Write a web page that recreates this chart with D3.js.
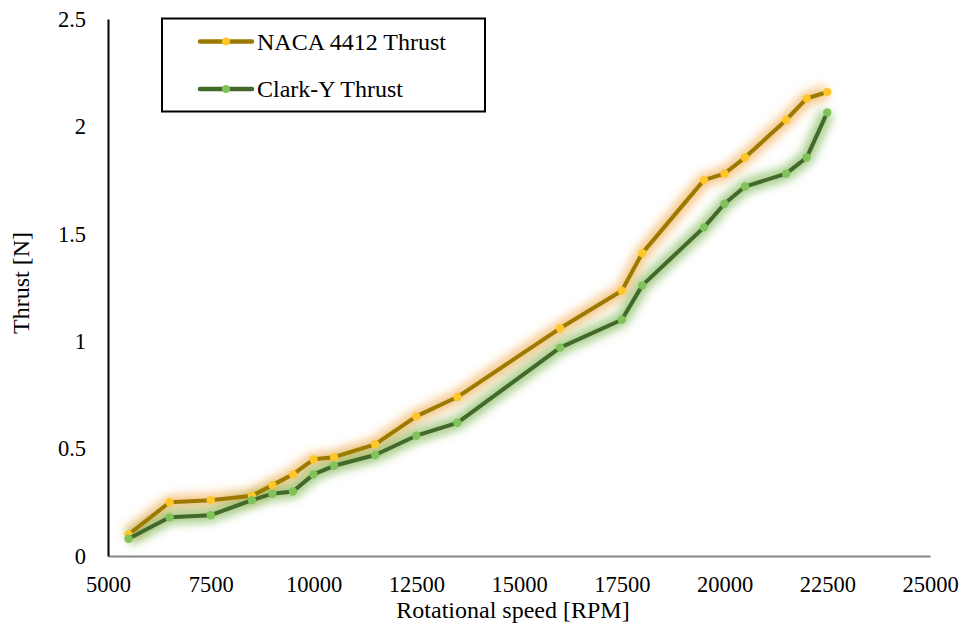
<!DOCTYPE html>
<html>
<head>
<meta charset="utf-8">
<script src="https://cdn.jsdelivr.net/npm/d3@7"></script>
<style>
  body { margin: 0; background: #fff; }
  svg text { font-family: "Liberation Serif", "Times New Roman", serif; fill: #000; }
</style>
</head>
<body>
<div id="chart"></div>
<script>
// rotational speed [RPM]
const rpm = [5500, 6500, 7500, 8500, 9000, 9500, 10000, 10500, 11500, 12500,
  13500, 16000, 17500, 18000, 19500, 20000, 20500, 21500, 22000, 22500];
// thrust [N]
const nacaThrust = [0.10, 0.25, 0.26, 0.28, 0.33, 0.38, 0.45, 0.46, 0.52, 0.65,
  0.74, 1.06, 1.235, 1.41, 1.75, 1.78, 1.855, 2.03, 2.13, 2.16];
const clarkThrust = [0.08, 0.18, 0.19, 0.26, 0.29, 0.30, 0.38, 0.42, 0.47, 0.56,
  0.62, 0.97, 1.10, 1.26, 1.53, 1.64, 1.72, 1.78, 1.855, 2.065];
const xTicks = [5000, 7500, 10000, 12500, 15000, 17500, 20000, 22500, 25000];
const yTicks = [0, 0.5, 1, 1.5, 2, 2.5];

const series = [
  { name: "NACA 4412 Thrust", values: nacaThrust, line: "#9c7a00", dot: "#ffc629", glow: "#f0a43a" },
  { name: "Clark-Y Thrust", values: clarkThrust, line: "#43682b", dot: "#7fc35a", glow: "#6cae3e" },
];

const FONT = '"Liberation Serif", "Times New Roman", serif';
const W = 965, H = 626;
const svg = d3.select("#chart").append("svg").attr("width", W).attr("height", H);

const x = d3.scaleLinear().domain([5000, 25000]).range([108, 930]);
const y = d3.scaleLinear().domain([0, 2.5]).range([556, 19]);

// soft glow behind the lines
const defs = svg.append("defs");
defs.append("filter").attr("id", "glow")
  .attr("x", "-10%").attr("y", "-10%").attr("width", "120%").attr("height", "120%")
  .append("feGaussianBlur").attr("stdDeviation", 5);

// x axis (gray line, no ticks)
const xAxis = svg.append("g").attr("transform", `translate(0,${y(0)})`)
  .attr("font-family", FONT)
  .call(d3.axisBottom(x).tickValues(xTicks).tickSize(0).tickPadding(20).tickFormat(d3.format("d")));
xAxis.attr("font-family", FONT);
xAxis.select(".domain").attr("stroke", "#868686").attr("stroke-width", 2);
xAxis.selectAll("text").style("font-family", FONT).attr("font-size", 22.5);

// y axis (black line, no ticks)
const yAxis = svg.append("g").attr("transform", `translate(${x(5000)},0)`)
  .call(d3.axisLeft(y).tickValues(yTicks).tickSize(0).tickPadding(22).tickFormat(d3.format("")));
yAxis.attr("font-family", FONT);
yAxis.select(".domain").attr("stroke", "#000").attr("stroke-width", 2);
yAxis.selectAll("text").style("font-family", FONT).attr("font-size", 22.5);

const line = d3.line().x((d) => x(d[0])).y((d) => y(d[1]));

series.forEach((s) => {
  const pts = rpm.map((r, i) => [r, s.values[i]]);
  svg.append("path").datum(pts)
    .attr("fill", "none").attr("stroke", s.glow).attr("stroke-width", 14)
    .attr("stroke-opacity", 0.6).attr("stroke-linejoin", "round")
    .attr("filter", "url(#glow)").attr("d", line);
});

series.forEach((s) => {
  const pts = rpm.map((r, i) => [r, s.values[i]]);
  svg.append("path").datum(pts)
    .attr("fill", "none").attr("stroke", s.line).attr("stroke-width", 4)
    .attr("stroke-linejoin", "round").attr("d", line);
  svg.append("g").selectAll("circle").data(pts).join("circle")
    .attr("cx", (d) => x(d[0])).attr("cy", (d) => y(d[1]))
    .attr("r", 4.2).attr("fill", s.dot);
});

// axis titles
svg.append("text").attr("x", 513).attr("y", 618).attr("text-anchor", "middle")
  .attr("font-size", 24).text("Rotational speed [RPM]");
svg.append("text").attr("transform", "translate(29,283) rotate(-90)")
  .attr("text-anchor", "middle").attr("font-size", 24).text("Thrust [N]");

// legend
const legend = svg.append("g");
legend.append("rect").attr("x", 162).attr("y", 18.5).attr("width", 323).attr("height", 93)
  .attr("fill", "#fff").attr("stroke", "#000").attr("stroke-width", 2);
series.forEach((s, i) => {
  const ly = 41.5 + i * 47.5;
  legend.append("line").attr("x1", 200).attr("x2", 252).attr("y1", ly).attr("y2", ly)
    .attr("stroke", s.line).attr("stroke-width", 4.5).attr("stroke-linecap", "round");
  legend.append("circle").attr("cx", 226).attr("cy", ly).attr("r", 4).attr("fill", s.dot);
  legend.append("text").attr("x", 257).attr("y", ly + 8).attr("font-size", 24).text(s.name);
});
</script>
</body>
</html>
